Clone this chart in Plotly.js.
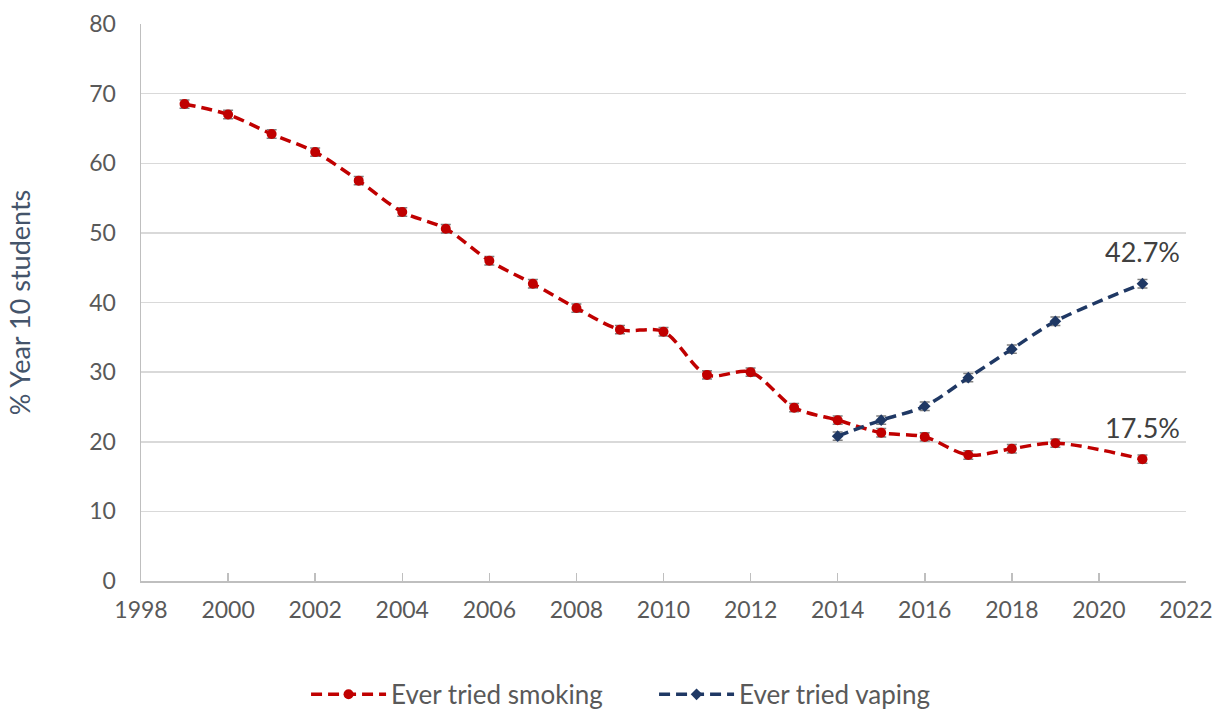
<!DOCTYPE html>
<html>
<head>
<meta charset="utf-8">
<script src="https://cdn.plot.ly/plotly-3.0.1.min.js"></script>
<style>html,body{margin:0;padding:0;background:#fff;}#chart{width:1215px;height:710px;}</style>
</head>
<body>
<div id="chart"></div>
<script>
const smokingYears = [1999,2000,2001,2002,2003,2004,2005,2006,2007,2008,2009,2010,2011,2012,2013,2014,2015,2016,2017,2018,2019,2021];
const smokingValues = [68.5,67.0,64.2,61.6,57.5,53.0,50.6,46.0,42.7,39.2,36.1,35.8,29.6,30.0,24.9,23.1,21.3,20.7,18.1,19.0,19.8,17.5];
const smokingErr = [0.6,0.6,0.6,0.6,0.6,0.6,0.6,0.6,0.6,0.6,0.6,0.6,0.6,0.6,0.6,0.6,0.6,0.6,0.6,0.6,0.6,0.6];
const vapingYears = [2014,2015,2016,2017,2018,2019,2021];
const vapingValues = [20.8,23.1,25.1,29.2,33.3,37.3,42.7];
const vapingErr = [0.6,0.6,0.6,0.6,0.6,0.6,0.6];
const seriesNames = ["Ever tried smoking","Ever tried vaping"];
const labelTexts = ["42.7%","17.5%"];

const FONT = "Lato, 'Open Sans', sans-serif";
const traces = [
  {
    x: smokingYears, y: smokingValues, name: seriesNames[0], type: 'scatter', mode: 'lines+markers',
    line: {color: '#C00000', width: 3.5, dash: '11px,6px', shape: 'spline', smoothing: 0.9},
    marker: {symbol: 'circle', size: 10, color: '#C00000'},
    error_y: {type: 'data', array: smokingErr, visible: true, color: '#7F7F7F', thickness: 1.5, width: 5}
  },
  {
    x: vapingYears, y: vapingValues, name: seriesNames[1], type: 'scatter', mode: 'lines+markers',
    line: {color: '#1F3864', width: 3.5, dash: '11px,6px', shape: 'spline', smoothing: 0.9},
    marker: {symbol: 'diamond', size: 9, color: '#1F3864'},
    error_y: {type: 'data', array: vapingErr, visible: true, color: '#7F7F7F', thickness: 1.5, width: 5}
  }
];

const layout = {
  width: 1215, height: 710,
  margin: {l: 141, r: 29, t: 24, b: 129},
  paper_bgcolor: '#fff', plot_bgcolor: '#fff',
  font: {family: FONT, size: 23, color: '#595959'},
  showlegend: true,
  legend: {orientation: 'h', xref: 'container', yref: 'container', x: 0.2519, y: 0.022, xanchor: 'left', yanchor: 'middle',
           font: {family: FONT, size: 26, color: '#595959'}, itemwidth: 75, entrywidth: 258, tracegroupgap: 0},
  xaxis: {
    range: [1998, 2022], tick0: 1998, dtick: 2, showgrid: false, zeroline: false,
    showline: true, linecolor: '#BFBFBF', linewidth: 1.5,
    ticks: 'inside', ticklen: 8, tickcolor: '#BFBFBF', tickwidth: 1.5, ticklabelstandoff: 8,
    tickfont: {family: FONT, size: 23, color: '#595959'}
  },
  yaxis: {
    range: [0, 80], dtick: 10, showgrid: true, gridcolor: '#D9D9D9', gridwidth: 1.5, zeroline: false,
    showline: true, linecolor: '#BFBFBF', linewidth: 1.5, ticks: '', ticklabelstandoff: 19,
    tickfont: {family: FONT, size: 23, color: '#595959'},
    title: {text: '% Year 10 students', font: {family: FONT, size: 27, color: '#44546A'}, standoff: 51}
  },
  annotations: [
    {x: vapingYears[vapingYears.length-1], y: vapingValues[vapingValues.length-1], text: labelTexts[0], showarrow: false,
     yshift: 32, font: {family: FONT, size: 27, color: '#404040'}},
    {x: smokingYears[smokingYears.length-1], y: smokingValues[smokingValues.length-1], text: labelTexts[1], showarrow: false,
     yshift: 32, font: {family: FONT, size: 27, color: '#404040'}}
  ]
};
Plotly.newPlot('chart', traces, layout, {displayModeBar: false, staticPlot: true});
</script>
</body>
</html>
